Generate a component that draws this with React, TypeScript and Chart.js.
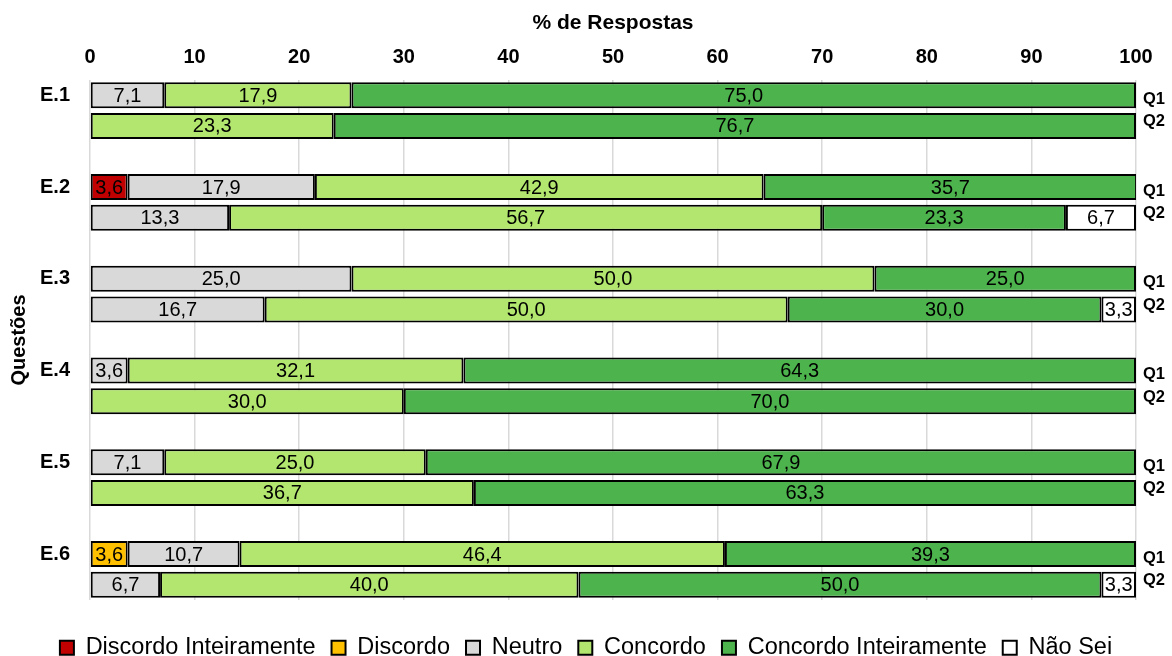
import React, { useEffect, useRef } from "react";
import { Chart, registerables } from "chart.js";

Chart.register(...registerables);

const questions = ["E.1", "E.2", "E.3", "E.4", "E.5", "E.6"];
const rowNames = ["Q1", "Q2"];
const xTicks = [0, 10, 20, 30, 40, 50, 60, 70, 80, 90, 100];

// order: E.1 Q1, E.1 Q2, E.2 Q1, E.2 Q2, ...
const discordoInteiramente = [null, null, 3.6, null, null, null, null, null, null, null, null, null];
const discordo = [null, null, null, null, null, null, null, null, null, null, 3.6, null];
const neutro = [7.1, null, 17.9, 13.3, 25.0, 16.7, 3.6, null, 7.1, null, 10.7, 6.7];
const concordo = [17.9, 23.3, 42.9, 56.7, 50.0, 50.0, 32.1, 30.0, 25.0, 36.7, 46.4, 40.0];
const concordoInteiramente = [75.0, 76.7, 35.7, 23.3, 25.0, 30.0, 64.3, 70.0, 67.9, 63.3, 39.3, 50.0];
const naoSei = [null, null, null, 6.7, null, 3.3, null, null, null, null, null, 3.3];

const seriesNames = ["Discordo Inteiramente", "Discordo", "Neutro", "Concordo", "Concordo Inteiramente", "Não Sei"];
const seriesColors = ["#C00000", "#FFC000", "#D9D9D9", "#B3E66E", "#4DB34D", "#FFFFFF"];
const seriesValues = [discordoInteiramente, discordo, neutro, concordo, concordoInteiramente, naoSei];

const FONT = "'Liberation Sans', Arial, sans-serif";

// Expand to 17 slots: Q1, Q2, gap per question (no trailing gap)
function expand(vals: (number | null)[]) {
  const out: (number | null)[] = [];
  questions.forEach((_, qi) => {
    out.push(vals[qi * 2], vals[qi * 2 + 1]);
    if (qi < questions.length - 1) out.push(null);
  });
  return out;
}

const yLabels: string[] = [];
const rowLabelOf: string[] = [];
questions.forEach((q, qi) => {
  yLabels.push(q, "");
  rowLabelOf.push(rowNames[0], rowNames[1]);
  if (qi < questions.length - 1) {
    yLabels.push("");
    rowLabelOf.push("");
  }
});

const fmt = (v: number) => v.toFixed(1).replace(".", ",");

const labelsPlugin = {
  id: "barLabels",
  afterDatasetsDraw(chart: any) {
    const ctx = chart.ctx;
    ctx.save();
    ctx.font = `20px ${FONT}`;
    ctx.fillStyle = "#000";
    ctx.textAlign = "center";
    ctx.textBaseline = "middle";
    chart.data.datasets.forEach((ds: any, di: number) => {
      const meta = chart.getDatasetMeta(di);
      meta.data.forEach((el: any, i: number) => {
        const v = ds.data[i];
        if (v == null) return;
        const { x, base, y } = el.getProps(["x", "base", "y"], true);
        ctx.fillText(fmt(v), (x + base) / 2, y + 1);
      });
    });
    // Q1 / Q2 labels on the right
    ctx.font = `bold 16.5px ${FONT}`;
    ctx.textAlign = "left";
    const yScale = chart.scales.y;
    rowLabelOf.forEach((lab, i) => {
      if (!lab) return;
      const yy = yScale.getPixelForValue(i) + (lab === "Q1" ? 4 : -4);
      ctx.fillText(lab, chart.chartArea.right + 7, yy);
    });
    ctx.restore();
  },
};

export default function App() {
  const ref = useRef<HTMLCanvasElement>(null);
  useEffect(() => {
    if (!ref.current) return;
    const chart = new Chart(ref.current, {
      type: "bar",
      data: {
        labels: yLabels,
        datasets: seriesNames.map((name, i) => ({
          label: name,
          data: expand(seriesValues[i]),
          backgroundColor: seriesColors[i],
          borderColor: "#000",
          borderWidth: 2,
          borderSkipped: false,
          categoryPercentage: 1,
          barPercentage: 0.85,
        })),
      },
      options: {
        indexAxis: "y",
        animation: false,
        responsive: false,
        layout: { padding: { left: 0, right: 0, top: 0, bottom: 0 } },
        scales: {
          x: {
            position: "top",
            stacked: true,
            min: 0,
            max: 100,
            afterBuildTicks: (s: any) => {
              s.ticks = xTicks.map((v) => ({ value: v }));
            },
            afterFit: (s: any) => {
              s.height = 80;
            },
            ticks: {
              color: "#000",
              font: { family: FONT, size: 20, weight: "bold" },
              padding: 11,
            },
            grid: { color: "#D9D9D9", lineWidth: 1.5, drawTicks: false },
            border: { display: false },
            title: {
              display: true,
              text: "% de Respostas",
              color: "#000",
              font: { family: FONT, size: 21, weight: "bold" },
              padding: { top: 11, bottom: 0 },
            },
          },
          y: {
            stacked: true,
            afterFit: (s: any) => {
              s.width = 90;
            },
            ticks: {
              color: "#000",
              font: { family: FONT, size: 20, weight: "bold" },
              padding: 20,
              autoSkip: false,
            },
            grid: { display: false, drawTicks: false },
            border: { display: false },
            title: {
              display: true,
              text: "Questões",
              color: "#000",
              font: { family: FONT, size: 20, weight: "bold" },
              padding: { top: 7, bottom: 0 },
            },
          },
          yRight: {
            type: "category",
            position: "right",
            labels: yLabels,
            afterFit: (s: any) => {
              s.width = 36;
            },
            ticks: { display: false },
            grid: { display: false, drawTicks: false },
            border: { display: false },
          },
        },
        plugins: {
          legend: {
            position: "bottom",
            maxHeight: 56,
            title: {
              display: true,
              text: " ",
              font: { family: FONT, size: 10 },
              padding: { top: 8, bottom: 0 },
            },
            labels: {
              color: "#000",
              font: { family: FONT, size: 23.5 },
              boxWidth: 14,
              boxHeight: 14,
              padding: 16,
            },
          },
          tooltip: { enabled: false },
        },
      },
      plugins: [labelsPlugin],
    } as any);
    return () => chart.destroy();
  }, []);
  return (
    <div style={{ position: "absolute", left: 0, top: 0, width: 1172, height: 656 }}>
      <canvas ref={ref} width={1172} height={656} style={{ display: "block" }} />
    </div>
  );
}
